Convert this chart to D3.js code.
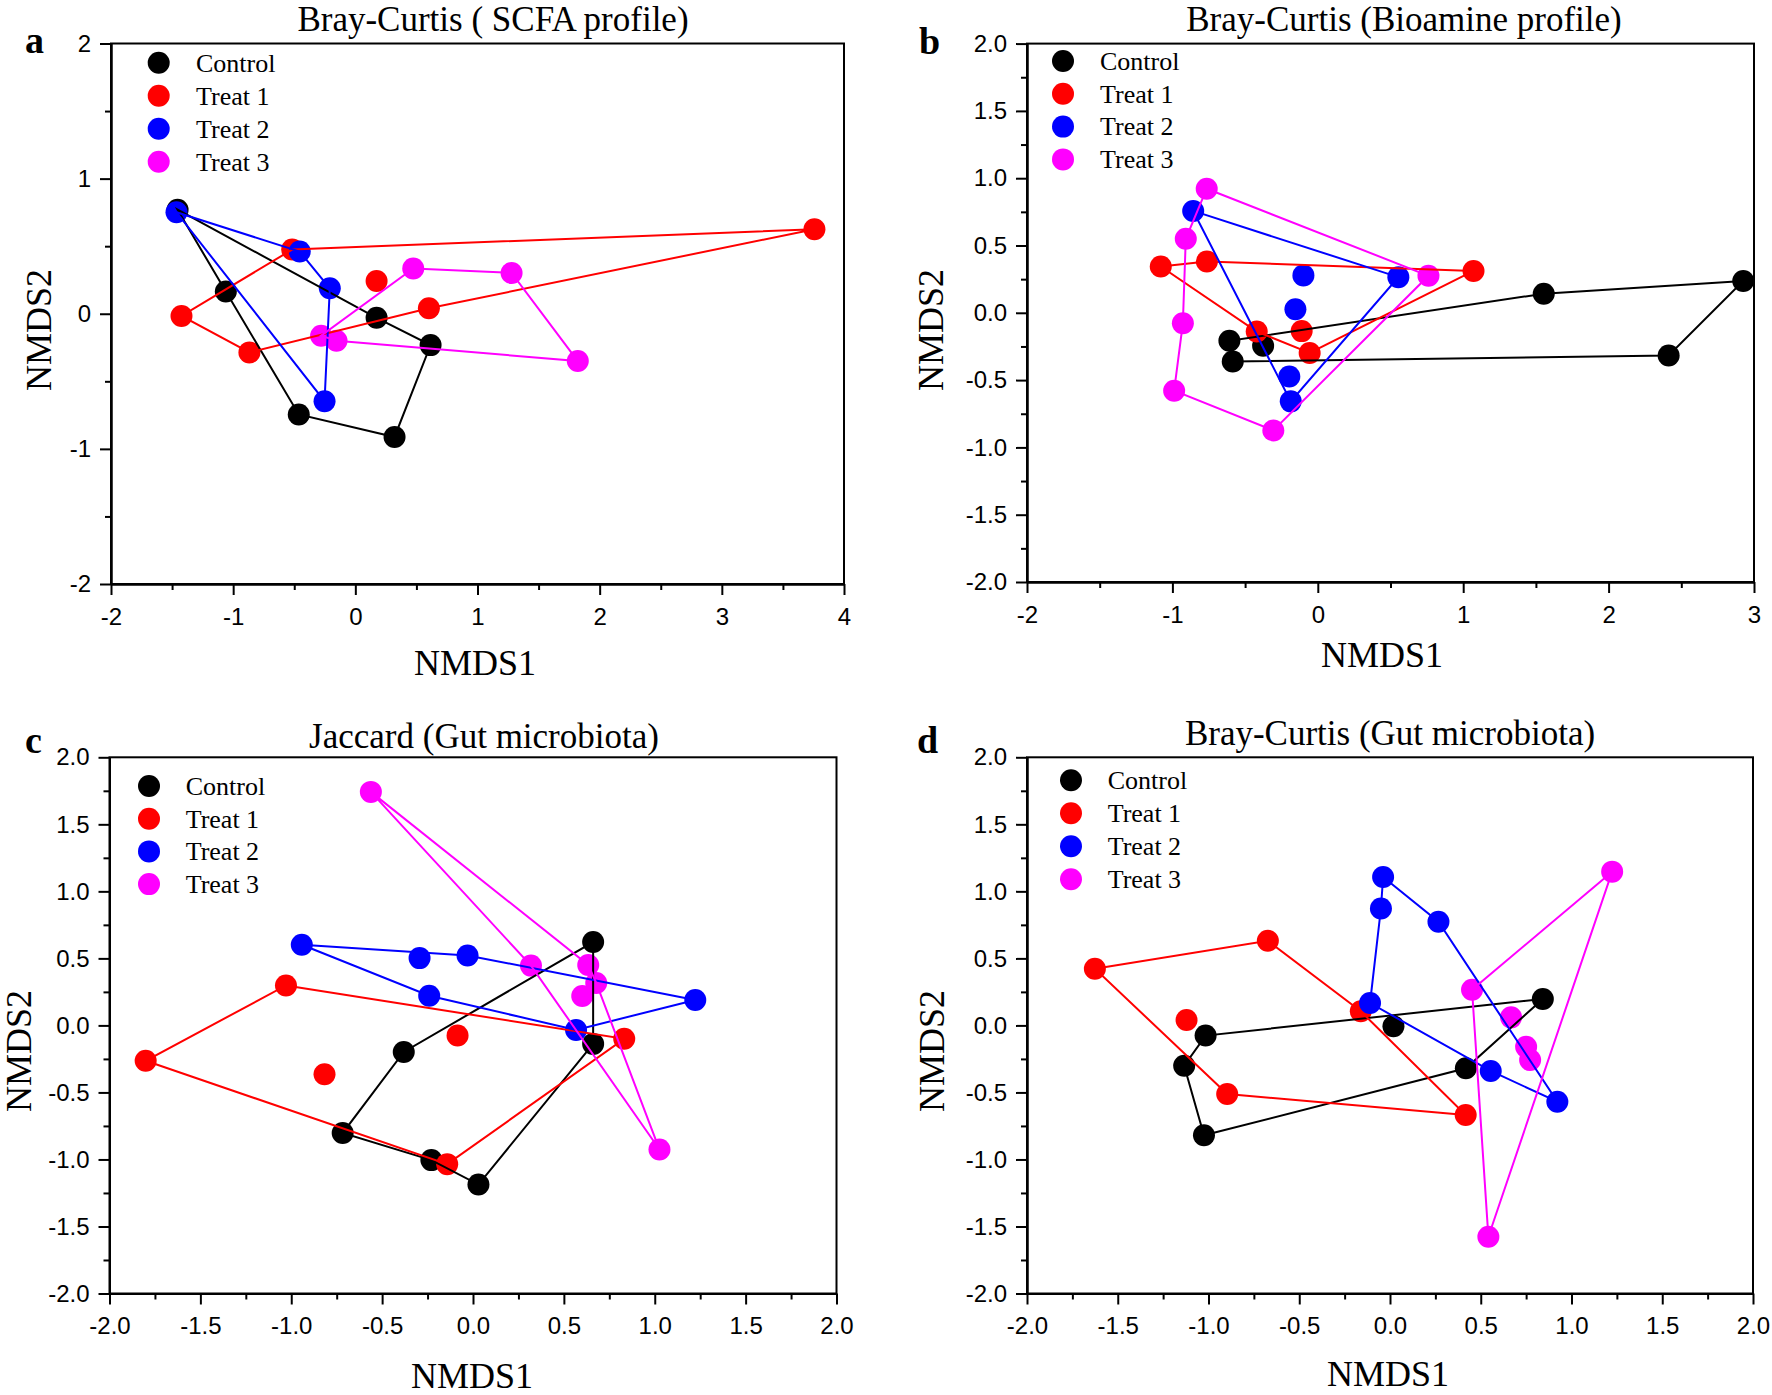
<!DOCTYPE html>
<html>
<head>
<meta charset="utf-8">
<script src="https://cdn.jsdelivr.net/npm/d3@7"></script>
<style>
  html, body { margin: 0; padding: 0; background: #fff; }
  svg { display: block; }
</style>
</head>
<body>
<svg id="chart" width="1772" height="1395"></svg>
<script>
// ---------------- DATA ----------------
const groups = ["Control", "Treat 1", "Treat 2", "Treat 3"];

// Panel a: Bray-Curtis (SCFA profile) — outline points in drawing order, plus inner points
const scfaOutline = [
  [[-1.455, 0.77], [-1.06, 0.164], [-0.463, -0.745], [0.321, -0.912], [0.616, -0.232], [0.174, -0.03]],
  [[3.758, 0.626], [-0.517, 0.475], [-1.423, -0.016], [-0.867, -0.286], [0.602, 0.04]],
  [[-1.464, 0.751], [-0.455, 0.46], [-0.209, 0.188], [-0.252, -0.647]],
  [[0.474, 0.335], [1.279, 0.302], [1.821, -0.35], [-0.154, -0.2], [-0.28, -0.163]]
];
const scfaInner = [[], [[0.174, 0.242]], [], []];

// Panel b: Bray-Curtis (Bioamine profile)
const bioOutline = [
  [[2.926, 0.236], [1.554, 0.142], [-0.608, -0.208], [-0.585, -0.362], [2.413, -0.317]],
  [[-1.08, 0.344], [-0.763, 0.381], [1.071, 0.311], [-0.056, -0.298], [-0.42, -0.139]],
  [[-0.857, 0.757], [0.554, 0.265], [-0.186, -0.658]],
  [[-0.764, 0.922], [0.761, 0.275], [-0.306, -0.874], [-0.988, -0.579], [-0.928, -0.077], [-0.908, 0.55]]
];
const bioInner = [[[-0.376, -0.245]], [[-0.111, -0.136]], [[-0.099, 0.278], [-0.154, 0.026], [-0.196, -0.473]], []];

// Panel c: Jaccard (Gut microbiota)
const jacOutline = [
  [[0.661, 0.622], [0.661, -0.138], [0.03, -1.187], [-0.229, -1.005], [-0.717, -0.803], [-0.381, -0.198]],
  [[-1.029, 0.298], [0.832, -0.10], [-0.142, -1.035], [-1.801, -0.264]],
  [[-0.942, 0.602], [-0.03, 0.522], [1.223, 0.19], [0.567, -0.034], [-0.241, 0.221]],
  [[-0.562, 1.742], [0.634, 0.451], [0.678, 0.317], [1.026, -0.926], [0.319, 0.446]]
];
const jacInner = [[], [[-0.085, -0.076], [-0.817, -0.364]], [[-0.294, 0.502]], [[0.601, 0.22]]];

// Panel d: Bray-Curtis (Gut microbiota)
const bcgOutline = [
  [[0.842, 0.197], [-1.016, -0.076], [-1.134, -0.301], [-1.025, -0.82], [0.418, -0.32]],
  [[-1.626, 0.423], [-0.673, 0.631], [-0.161, 0.105], [0.417, -0.668], [-0.897, -0.512]],
  [[-0.038, 1.107], [0.267, 0.773], [0.922, -0.569], [0.555, -0.34], [-0.11, 0.167], [-0.05, 0.872]],
  [[1.224, 1.147], [0.452, 0.266], [0.542, -1.577]]
];
const bcgInner = [[[0.019, -0.006]], [[-1.121, 0.04]], [], [[0.667, 0.06], [0.75, -0.16], [0.772, -0.258]]];

// Axis ticks
const scfaXTicks = [-2, -1, 0, 1, 2, 3, 4];
const scfaYTicks = [-2, -1, 0, 1, 2];
const bioXTicks = [-2, -1, 0, 1, 2, 3];
const bioYTicks = [-2.0, -1.5, -1.0, -0.5, 0.0, 0.5, 1.0, 1.5, 2.0];
const gutXTicks = [-2.0, -1.5, -1.0, -0.5, 0.0, 0.5, 1.0, 1.5, 2.0];
const gutYTicks = [-2.0, -1.5, -1.0, -0.5, 0.0, 0.5, 1.0, 1.5, 2.0];

const titles = ["Bray-Curtis ( SCFA profile)", "Bray-Curtis (Bioamine profile)", "Jaccard (Gut microbiota)", "Bray-Curtis (Gut microbiota)"];
const letters = ["a", "b", "c", "d"];

// ---------------- STYLE / LAYOUT ----------------
const colors = ["#000000", "#ff0000", "#0000ff", "#ff00ff"];
const serif = "'Liberation Serif', 'Times New Roman', serif";
const sans = "'Liberation Sans', Arial, sans-serif";

const panels = [
  { outline: scfaOutline, inner: scfaInner, xd: [-2, 4], yd: [-2, 2], xt: scfaXTicks, yt: scfaYTicks, xdec: 0, ydec: 0,
    xminor: 0.5, yminor: 0.5,
    box: [111, 844, 43.5, 584], title: [493, 31], letter: [25, 53], xlab: [475, 675], ylab: [51, 330],
    legend: [158.7, 196, 62.7, 33] },
  { outline: bioOutline, inner: bioInner, xd: [-2, 3], yd: [-2, 2], xt: bioXTicks, yt: bioYTicks, xdec: 0, ydec: 1,
    xminor: 0.5, yminor: 0.25,
    box: [1027, 1754, 43.6, 582], title: [1404, 31], letter: [919, 54], xlab: [1382, 667], ylab: [943, 330],
    legend: [1063, 1100, 61, 32.8] },
  { outline: jacOutline, inner: jacInner, xd: [-2, 2], yd: [-2, 2], xt: gutXTicks, yt: gutYTicks, xdec: 1, ydec: 1,
    xminor: 0.25, yminor: 0.25,
    box: [109.5, 836.5, 757.3, 1293.5], title: [484, 748], letter: [25, 753], xlab: [472, 1388], ylab: [31, 1051],
    legend: [149, 185.7, 786, 32.7] },
  { outline: bcgOutline, inner: bcgInner, xd: [-2, 2], yd: [-2, 2], xt: gutXTicks, yt: gutYTicks, xdec: 1, ydec: 1,
    xminor: 0.25, yminor: 0.25,
    box: [1027, 1753, 757.3, 1293.5], title: [1390, 745], letter: [917, 753], xlab: [1388, 1386], ylab: [944, 1051],
    legend: [1071, 1107.7, 780.2, 33] }
];

const svg = d3.select("#chart");
const fmt = dec => v => (dec ? v.toFixed(dec) : String(Math.round(v))).replace("\u2212", "-");

function minorTicks(domain, step, majors) {
  const out = [];
  const n = Math.round((domain[1] - domain[0]) / step);
  for (let i = 0; i <= n; i++) {
    const v = +(domain[0] + i * step).toFixed(4);
    if (!majors.some(m => Math.abs(m - v) < 1e-6)) out.push(v);
  }
  return out;
}

panels.forEach((p, pi) => {
  const [x0, x1, y0, y1] = p.box;
  const x = d3.scaleLinear().domain(p.xd).range([x0, x1]);
  const y = d3.scaleLinear().domain(p.yd).range([y1, y0]);
  const g = svg.append("g");

  // frame
  g.append("rect").attr("x", x0).attr("y", y0).attr("width", x1 - x0).attr("height", y1 - y0)
    .attr("fill", "none").attr("stroke", "#000").attr("stroke-width", 2);

  // axes
  const xAxis = d3.axisBottom(x).tickValues(p.xt).tickFormat(fmt(p.xdec)).tickSize(11).tickSizeOuter(0).tickPadding(8);
  const yAxis = d3.axisLeft(y).tickValues(p.yt).tickFormat(fmt(p.ydec)).tickSize(11).tickSizeOuter(0).tickPadding(9);
  const xa = g.append("g").attr("transform", `translate(0,${y1})`).call(xAxis);
  const ya = g.append("g").attr("transform", `translate(${x0},0)`).call(yAxis);
  const xm = g.append("g").attr("transform", `translate(0,${y1})`)
    .call(d3.axisBottom(x).tickValues(minorTicks(p.xd, p.xminor, p.xt)).tickFormat("").tickSize(6).tickSizeOuter(0));
  const ym = g.append("g").attr("transform", `translate(${x0},0)`)
    .call(d3.axisLeft(y).tickValues(minorTicks(p.yd, p.yminor, p.yt)).tickFormat("").tickSize(6).tickSizeOuter(0));
  [xa, ya, xm, ym].forEach(a => {
    a.select(".domain").attr("stroke-width", 2);
    a.selectAll(".tick line").attr("stroke-width", 2);
    a.selectAll("text").attr("font-family", sans).attr("font-size", 24).attr("fill", "#000");
  });
  xa.selectAll("text").attr("dy", "0.9em");

  // points
  const line = d3.line().x(d => x(d[0])).y(d => y(d[1])).curve(d3.curveLinearClosed);
  groups.forEach((gn, gi) => {
    const pts = p.outline[gi].concat(p.inner[gi]);
    g.append("g").selectAll("circle").data(pts).join("circle")
      .attr("cx", d => x(d[0])).attr("cy", d => y(d[1])).attr("r", 11)
      .attr("fill", colors[gi]);
  });
  // outlines on top
  groups.forEach((gn, gi) => {
    g.append("path").datum(p.outline[gi]).attr("d", line)
      .attr("fill", "none").attr("stroke", colors[gi]).attr("stroke-width", 2);
  });

  // legend
  const [lmx, ltx, ly0, lstep] = p.legend;
  groups.forEach((gn, gi) => {
    const yy = ly0 + gi * lstep;
    g.append("circle").attr("cx", lmx).attr("cy", yy).attr("r", 11).attr("fill", colors[gi]);
    g.append("text").attr("x", ltx).attr("y", yy).attr("dy", "0.34em")
      .attr("font-family", serif).attr("font-size", 26).text(gn);
  });

  // titles
  g.append("text").attr("x", p.title[0]).attr("y", p.title[1]).attr("text-anchor", "middle")
    .attr("font-family", serif).attr("font-size", 35).text(titles[pi]);
  g.append("text").attr("x", p.letter[0]).attr("y", p.letter[1])
    .attr("font-family", serif).attr("font-size", 38).attr("font-weight", "bold").text(letters[pi]);
  g.append("text").attr("x", p.xlab[0]).attr("y", p.xlab[1]).attr("text-anchor", "middle")
    .attr("font-family", serif).attr("font-size", 36).text("NMDS1");
  g.append("text").attr("transform", `translate(${p.ylab[0]},${p.ylab[1]}) rotate(-90)`)
    .attr("text-anchor", "middle")
    .attr("font-family", serif).attr("font-size", 36).text("NMDS2");
});
</script>
</body>
</html>
